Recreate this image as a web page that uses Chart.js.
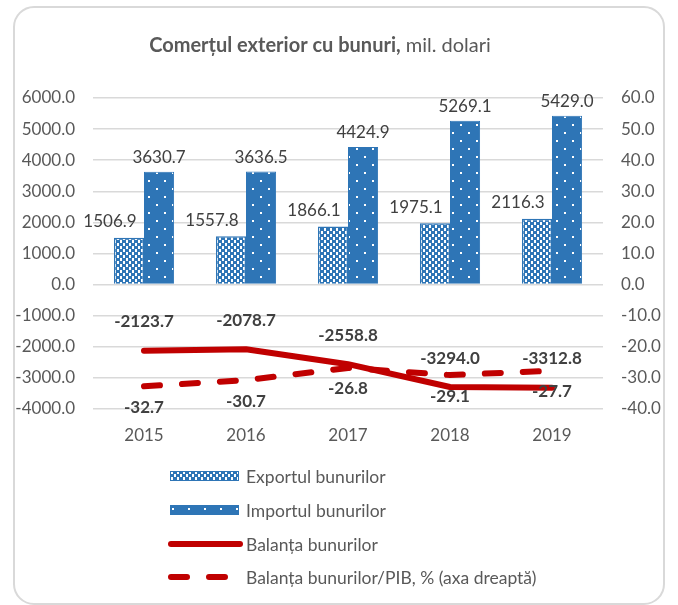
<!DOCTYPE html>
<html>
<head>
<meta charset="utf-8">
<script src="https://cdn.jsdelivr.net/npm/chart.js@4"></script>
<style>
  html, body { margin: 0; padding: 0; background: #fff; }
  #wrap { position: relative; width: 678px; height: 605px; }
</style>
</head>
<body>
<div id="wrap"><canvas id="c" width="678" height="605"></canvas></div>
<script>
const years = ['2015', '2016', '2017', '2018', '2019'];
const exportVals = [1506.9, 1557.8, 1866.1, 1975.1, 2116.3];
const importVals = [3630.7, 3636.5, 4424.9, 5269.1, 5429.0];
const balanceVals = [-2123.7, -2078.7, -2558.8, -3294.0, -3312.8];
const balancePctVals = [-32.7, -30.7, -26.8, -29.1, -27.7];
const leftTickValues = [-4000, -3000, -2000, -1000, 0, 1000, 2000, 3000, 4000, 5000, 6000];
const rightTickValues = [-40, -30, -20, -10, 0, 10, 20, 30, 40, 50, 60];
const seriesNames = ['Exportul bunurilor', 'Importul bunurilor', 'Balanța bunurilor', 'Balanța bunurilor/PIB, % (axa dreaptă)'];
const titleBold = 'Comerțul exterior cu bunuri,';
const titleRest = ' mil. dolari';

const BLUE = '#2e75b6';
const RED = '#c00000';
const FONT = 'Lato, "Open Sans", sans-serif';

function checkerPattern() {
  const t = document.createElement('canvas');
  t.width = 6; t.height = 6;
  const g = t.getContext('2d');
  g.fillStyle = BLUE; g.fillRect(0, 0, 6, 6);
  g.fillStyle = '#ffffff';
  g.fillRect(0, 0, 3, 3); g.fillRect(3, 3, 3, 3);
  g.fillStyle = BLUE;
  g.fillRect(2, 0, 1, 3); g.fillRect(5, 3, 1, 3);
  return g.createPattern(t, 'repeat');
}
function dotPattern() {
  const t = document.createElement('canvas');
  t.width = 16; t.height = 16;
  const g = t.getContext('2d');
  g.fillStyle = BLUE; g.fillRect(0, 0, 16, 16);
  g.fillStyle = '#ffffff';
  g.fillRect(4, 4, 2, 2); g.fillRect(12, 12, 2, 2);
  return g.createPattern(t, 'repeat');
}
const checker = checkerPattern();
const dots = dotPattern();

const frameAndTitle = {
  id: 'frameAndTitle',
  beforeDraw(chart) {
    const ctx = chart.ctx;
    ctx.save();
    ctx.fillStyle = '#fff';
    ctx.fillRect(0, 0, chart.width, chart.height);
    ctx.strokeStyle = '#d9d9d9';
    ctx.lineWidth = 2;
    ctx.beginPath();
    ctx.roundRect(14, 7, 650, 597, 20);
    ctx.stroke();
    ctx.restore();
  },
  afterDraw(chart) {
    const ctx = chart.ctx;
    ctx.save();
    ctx.fillStyle = '#595959';
    ctx.textBaseline = 'alphabetic';
    ctx.font = 'bold 20px ' + FONT;
    const w1 = ctx.measureText(titleBold).width;
    ctx.font = '20px ' + FONT;
    const w2 = ctx.measureText(titleRest).width;
    const x0 = 320 - (w1 + w2) / 2;
    ctx.font = 'bold 20px ' + FONT;
    ctx.textAlign = 'left';
    ctx.fillText(titleBold, x0, 52);
    ctx.font = '20px ' + FONT;
    ctx.fillText(titleRest, x0 + w1, 52);

    // legend
    const ds = chart.data.datasets;
    const rows = [476, 510, 544, 577];
    ctx.textBaseline = 'middle';
    ctx.font = '17.5px ' + FONT;
    for (let i = 0; i < 4; i++) {
      const y = rows[i];
      const d = ds[i];
      if (d.type === 'bar') {
        ctx.fillStyle = d.backgroundColor;
        ctx.fillRect(170, y - 5, 69, 10);
        ctx.strokeStyle = BLUE; ctx.lineWidth = 1;
        ctx.strokeRect(170.5, y - 4.5, 68, 9);
      } else {
        ctx.strokeStyle = d.borderColor;
        ctx.lineWidth = d.borderWidth;
        ctx.lineCap = 'round';
        ctx.setLineDash(d.borderDash || []);
        ctx.beginPath();
        ctx.moveTo(171, y); ctx.lineTo(d.borderDash ? 236 : 240, y);
        ctx.stroke();
        ctx.setLineDash([]);
      }
      ctx.fillStyle = '#595959';
      ctx.textAlign = 'left';
      ctx.fillText(d.label, 246, y + 1);
    }
    ctx.restore();
  }
};

const dataLabels = {
  id: 'dataLabels',
  afterDatasetsDraw(chart) {
    const ctx = chart.ctx;
    ctx.save();
    ctx.fillStyle = '#404040';
    ctx.textAlign = 'center';
    ctx.textBaseline = 'middle';
    chart.data.datasets.forEach((d, i) => {
      const meta = chart.getDatasetMeta(i);
      meta.data.forEach((el, j) => {
        const v = d.data[j];
        let x = el.x, y = el.y;
        if (i === 0) { x -= 19; y -= 16; ctx.font = '17px ' + FONT; }
        else if (i === 1) { y -= 14; ctx.font = '17px ' + FONT; }
        else if (i === 2) { y -= 29; ctx.font = 'bold 17px ' + FONT; }
        else { y += 21; ctx.font = 'bold 17px ' + FONT; }
        ctx.fillText(v.toFixed(1), x, y);
      });
    });
    ctx.restore();
  }
};

new Chart(document.getElementById('c'), {
  data: {
    labels: years,
    datasets: [
      { type: 'bar', label: seriesNames[0], data: exportVals, backgroundColor: checker, borderColor: BLUE, borderWidth: 1.5, yAxisID: 'y', order: 2 },
      { type: 'bar', label: seriesNames[1], data: importVals, backgroundColor: dots, borderColor: BLUE, borderWidth: 1, yAxisID: 'y', order: 2 },
      { type: 'line', label: seriesNames[2], data: balanceVals, borderColor: RED, borderWidth: 6, borderCapStyle: 'round', borderJoinStyle: 'round', pointRadius: 0, tension: 0, fill: false, yAxisID: 'y', order: 1 },
      { type: 'line', label: seriesNames[3], data: balancePctVals, borderColor: RED, borderWidth: 6, borderDash: [16, 22], borderCapStyle: 'round', pointRadius: 0, tension: 0, fill: false, yAxisID: 'y1', order: 1 }
    ]
  },
  options: {
    responsive: false,
    animation: false,
    categoryPercentage: 0.59,
    barPercentage: 1.0,
    layout: { padding: { top: 98, left: 0, right: 0, bottom: 0 } },
    plugins: { legend: { display: false }, tooltip: { enabled: false }, title: { display: false } },
    scales: {
      x: {
        grid: { display: false, drawTicks: false },
        border: { display: false },
        ticks: { color: '#595959', font: { family: FONT, size: 17 }, padding: 16 },
        afterFit(s) { s.height = 196; }
      },
      y: {
        position: 'left',
        min: leftTickValues[0], max: leftTickValues[leftTickValues.length - 1],
        afterBuildTicks(s) { s.ticks = leftTickValues.map(v => ({ value: v })); },
        grid: { color: '#d9d9d9', lineWidth: 1.5, drawTicks: false },
        border: { display: false },
        ticks: { color: '#595959', font: { family: FONT, size: 17 }, padding: 18, callback: v => Number(v).toFixed(1) },
        afterFit(s) { s.width = 93; }
      },
      y1: {
        position: 'right',
        min: rightTickValues[0], max: rightTickValues[rightTickValues.length - 1],
        afterBuildTicks(s) { s.ticks = rightTickValues.map(v => ({ value: v })); },
        grid: { display: false, drawTicks: false },
        border: { display: false },
        ticks: { color: '#595959', font: { family: FONT, size: 17 }, padding: 18, callback: v => Number(v).toFixed(1) },
        afterFit(s) { s.width = 75; }
      }
    }
  },
  plugins: [frameAndTitle, dataLabels]
});
</script>
</body>
</html>
